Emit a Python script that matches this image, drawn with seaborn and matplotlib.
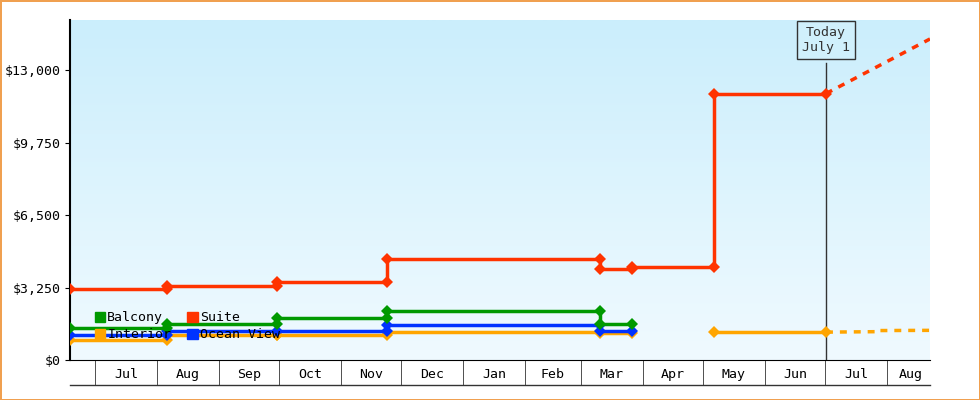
import matplotlib.pyplot as plt
from matplotlib.colors import LinearSegmentedColormap
import numpy as np
import pandas as pd
import seaborn as sns

plt.rcParams['font.family'] = ['DejaVu Sans Mono']

# days counted from Jun 1 of the first year
month_edges = [30, 61, 92, 122, 153, 183, 214, 245, 273, 304, 334, 365, 395, 426]
month_labels = ['Jul', 'Aug', 'Sep', 'Oct', 'Nov', 'Dec', 'Jan', 'Feb', 'Mar', 'Apr', 'May', 'Jun', 'Jul', 'Aug']

suite_x = [17.5, 66, 66, 121, 121, 176, 176, 282.5, 282.5, 298.5, 298.5, 339.5, 339.5, 395.5]
suite_y = [3200, 3200, 3300, 3300, 3500, 3500, 4550, 4550, 4100, 4100, 4150, 4150, 11950, 11950]
balcony_x = [17.5, 66, 66, 121, 121, 176, 176, 282.5, 282.5, 298.5]
balcony_y = [1430, 1430, 1600, 1600, 1870, 1870, 2200, 2200, 1600, 1600]
ocean_x = [17.5, 66, 66, 121, 176, 176, 282.5, 282.5, 298.5]
ocean_y = [1120, 1120, 1300, 1300, 1300, 1570, 1570, 1300, 1300]
interior_x = [17.5, 66, 66, 121, 121, 176, 176, 282.5, 282.5, 298.5]
interior_y = [900, 900, 1100, 1100, 1130, 1130, 1250, 1250, 1200, 1200]
interior2_x = [339.5, 395.5]
interior2_y = [1250, 1250]

suite_fc_x = [395.5, 447.5]
suite_fc_y = [11950, 14400]
interior_fc_x = [395.5, 420, 420, 447.5]
interior_fc_y = [1250, 1270, 1320, 1330]

colors = {'Balcony': '#009900', 'Suite': '#ff3300', 'Interior': '#ffa500', 'Ocean View': '#0033ff'}

fig = plt.figure(figsize=(9.8, 4), dpi=100)
fig.patch.set_edgecolor('#f0a050')
fig.patch.set_linewidth(2)
ax = fig.add_axes([70 / 980, 40 / 400, 860 / 980, 340 / 400])

xmin, xmax, ymax = 17.5, 447.5, 15250
grad = np.linspace(0, 1, 256).reshape(-1, 1)
cm = LinearSegmentedColormap.from_list('bg', ['#f0faff', '#cbeefc'])
ax.imshow(grad, aspect='auto', cmap=cm, origin='lower', extent=[xmin, xmax, 0, ymax], zorder=0)

def draw(xs, ys, name, ls='-', marker=True):
    df = pd.DataFrame({'x': xs, 'y': ys})
    sns.lineplot(data=df, x='x', y='y', ax=ax, sort=False, estimator=None, color=colors[name], lw=2.5,
                 linestyle=ls, marker='D' if marker else None, markersize=6, markeredgewidth=0, zorder=3)

draw(interior_x, interior_y, 'Interior')
draw(interior2_x, interior2_y, 'Interior')
draw(ocean_x, ocean_y, 'Ocean View')
draw(balcony_x, balcony_y, 'Balcony')
draw(suite_x, suite_y, 'Suite')
draw(suite_fc_x, suite_fc_y, 'Suite', ls=(0, (2, 2)), marker=False)
draw(interior_fc_x, interior_fc_y, 'Interior', ls=(0, (2, 2)), marker=False)

ax.plot([395.5, 395.5], [0, 13300], color='#333333', lw=1, zorder=2)
ax.text(395.5, 14350, 'Today\nJuly 1', ha='center', va='center', fontsize=9.5, color='#333333',
        bbox=dict(boxstyle='square,pad=0.4', fc='#d0f0fc', ec='#333333', lw=1), zorder=4)

handles = [plt.Rectangle((0, 0), 1, 1, color=colors[n]) for n in ['Balcony', 'Interior', 'Suite', 'Ocean View']]
ax.legend(handles, ['Balcony', 'Interior', 'Suite', 'Ocean View'], ncol=2, loc='lower left',
          bbox_to_anchor=(0.015, 0.02), frameon=False, fontsize=9.5, handlelength=0.8, handleheight=0.8,
          handletextpad=0.15, columnspacing=1.2, labelspacing=0.3)

ax.set_xlim(xmin, xmax)
ax.set_ylim(0, ymax)
ax.set_yticks([0, 3250, 6500, 9750, 13000])
ax.set_yticklabels(['$0', '$3,250', '$6,500', '$9,750', '$13,000'], fontsize=9.5)
centers = [(month_edges[i] + month_edges[i + 1]) / 2 for i in range(len(month_edges) - 1)] + [438]
ax.set_xticks(centers)
ax.set_xticklabels(month_labels, fontsize=9.5)
ax.tick_params(axis='x', length=0, pad=6)
ax.set_xticks(month_edges, minor=True)
ax.tick_params(axis='x', which='minor', length=18, color='#333333')
ax.set_xlabel('')
ax.set_ylabel('')
for s in ['top', 'right']:
    ax.spines[s].set_visible(False)
ax.spines['left'].set_linewidth(1.5)
fig.add_artist(plt.Line2D([70 / 980, 930 / 980], [15 / 400, 15 / 400], color='#333333', lw=1))

fig.savefig('out.png', dpi=100, edgecolor=fig.get_edgecolor())
